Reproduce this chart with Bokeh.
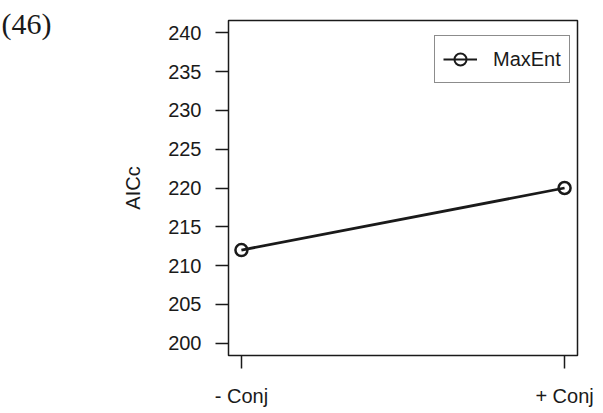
from bokeh.plotting import figure
from bokeh.models import Range1d, FixedTicker, Label, Legend, LegendItem, ColumnDataSource
from bokeh.embed import file_html
from bokeh.resources import INLINE

categories = ["- Conj", "+ Conj"]
positions = [1, 2]
maxent = [212, 220]
y_ticks = [200, 205, 210, 215, 220, 225, 230, 235, 240]
panel_label = "(46)"
y_label = "AICc"
series_name = "MaxEnt"

INK = "#1a1a1a"
SANS = "Liberation Sans"

p = figure(width=603, height=413, output_backend="svg", toolbar_location=None,
           x_range=Range1d(0.96, 2.04), y_range=Range1d(198.4, 241.6),
           min_border_left=228, min_border_right=26, min_border_top=20, min_border_bottom=58)
p.background_fill_color = "white"
p.border_fill_color = "white"
p.outline_line_color = INK
p.outline_line_width = 1.5
p.grid.visible = False

for ax in (p.xaxis, p.yaxis):
    ax.axis_line_color = None
    ax.major_tick_in = 0
    ax.major_tick_out = 13
    ax.minor_tick_line_color = None
    ax.major_tick_line_color = INK
    ax.major_tick_line_width = 1.5
    ax.major_label_text_font = SANS
    ax.major_label_text_font_size = "20px"
    ax.major_label_text_color = INK

p.xaxis.ticker = FixedTicker(ticks=positions)
p.xaxis.major_label_overrides = {pos: lab for pos, lab in zip(positions, categories)}
p.xaxis.major_label_standoff = 16
p.yaxis.ticker = FixedTicker(ticks=y_ticks)
p.yaxis.major_label_standoff = 14
p.yaxis.axis_label = y_label
p.yaxis.axis_label_text_font = SANS
p.yaxis.axis_label_text_font_style = "normal"
p.yaxis.axis_label_text_font_size = "20px"
p.yaxis.axis_label_text_color = INK
p.yaxis.axis_label_standoff = 21

src = ColumnDataSource(dict(x=positions, y=maxent))
line_r = p.line("x", "y", source=src, line_color=INK, line_width=2.8)
pts_r = p.scatter("x", "y", source=src, marker="circle", size=12, fill_color=None,
                  line_color=INK, line_width=2.5)
nan_src = ColumnDataSource(dict(x=[float("nan")], y=[float("nan")]))
leg_pts = p.scatter("x", "y", source=nan_src, marker="circle", size=9, fill_color=None,
                    line_color=INK, line_width=2)
leg_line = p.line("x", "y", source=nan_src, line_color=INK, line_width=2)

legend = Legend(items=[LegendItem(label=series_name, renderers=[leg_line, leg_pts])],
                location=(206, 272))
legend.border_line_color = INK
legend.border_line_width = 1.5
legend.label_text_font = SANS
legend.label_text_font_size = "20px"
legend.label_text_color = INK
legend.glyph_width = 34
legend.glyph_height = 30
legend.label_standoff = 16
legend.padding = 8
legend.margin = 0
legend.background_fill_alpha = 1
p.add_layout(legend, "center")

p.add_layout(Label(x=-68, y=316, x_units="screen", y_units="screen", text=panel_label,
                   text_font="Liberation Serif", text_font_size="30px", text_color=INK), "left")

open("out.html", "w").write(file_html(p, INLINE))
